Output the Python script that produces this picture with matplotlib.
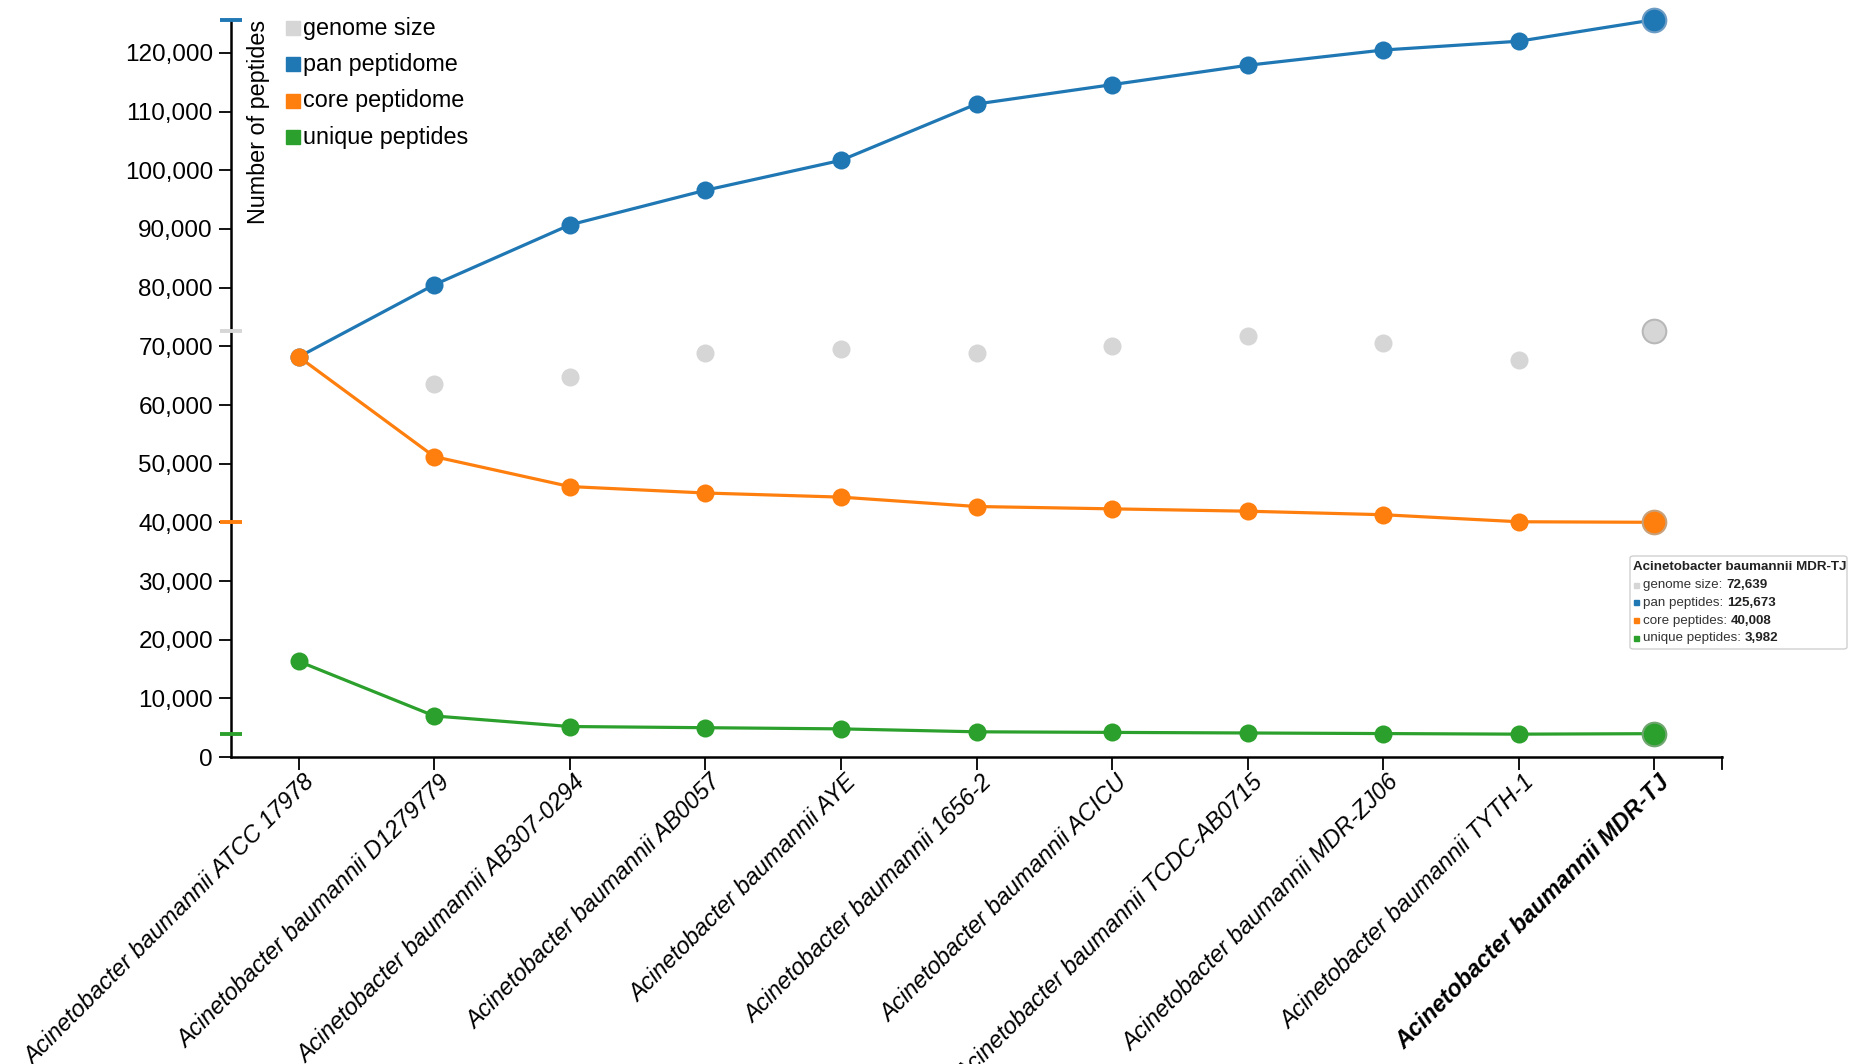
import numpy as np
import matplotlib
matplotlib.use("Agg")
import matplotlib.pyplot as plt
from matplotlib.ticker import FuncFormatter
from matplotlib.patches import FancyBboxPatch, Rectangle
import matplotlib.transforms as mtrans

plt.rcParams['font.family'] = ['Liberation Sans', 'DejaVu Sans']

# strains on the x axis (last one is the selected / highlighted strain)
strains = ["Acinetobacter baumannii ATCC 17978",
           "Acinetobacter baumannii D1279779",
           "Acinetobacter baumannii AB307-0294",
           "Acinetobacter baumannii AB0057",
           "Acinetobacter baumannii AYE",
           "Acinetobacter baumannii 1656-2",
           "Acinetobacter baumannii ACICU",
           "Acinetobacter baumannii TCDC-AB0715",
           "Acinetobacter baumannii MDR-ZJ06",
           "Acinetobacter baumannii TYTH-1",
           "Acinetobacter baumannii MDR-TJ"]

genome_size = [np.nan, 63500, 64700, 68800, 69600, 68800, 70000, 71800, 70600, 67600, 72639]
pan_peptidome = [68200, 80500, 90700, 96600, 101700, 111300, 114600, 117900, 120500, 122000, 125673]
core_peptidome = [68200, 51200, 46100, 45000, 44300, 42700, 42300, 41900, 41300, 40100, 40008]
unique_peptides = [16300, 7000, 5200, 5000, 4800, 4300, 4200, 4100, 4000, 3900, 3982]

c_gray = '#d6d6d6'
c_blue = '#1f77b4'
c_orange = '#ff7f0e'
c_green = '#2ca02c'

fig = plt.figure(figsize=(18.6, 10.64), dpi=100)
ax = fig.add_axes([0.1242, 0.2885, 0.8016, 0.6930])

x = np.arange(len(strains))
sel = len(strains) - 1

# genome size: dots only
ax.plot(x[:sel], genome_size[:sel], 'o', color=c_gray, ms=13, mec='none', zorder=2)
for vals, col in [(pan_peptidome, c_blue), (core_peptidome, c_orange),
                  (unique_peptides, c_green)]:
    ax.plot(x, vals, '-', color=col, lw=2.3, zorder=3)
    ax.plot(x[:sel], vals[:sel], 'o', color=col, ms=13, mec='none', zorder=4)

# highlighted strain
for vals, col, edge in [(genome_size, c_gray, '#b8b8b8'), (pan_peptidome, c_blue, '#6d9cc4'),
                        (core_peptidome, c_orange, '#c8a07a'), (unique_peptides, c_green, '#6fa66f')]:
    ax.plot(x[sel], vals[sel], 'o', color=col, ms=17, mec=edge, mew=1.5, zorder=5,
            clip_on=False)

ax.set_xlim(-0.5, len(strains) - 0.5)
ax.set_ylim(0, pan_peptidome[sel])
ax.set_yticks(np.arange(0, 120001, 10000))
ax.yaxis.set_major_formatter(FuncFormatter(lambda v, p: '{:,.0f}'.format(v)))
ax.tick_params(axis='y', length=9, width=1.3, labelsize=17.5, pad=4)
ax.tick_params(axis='x', length=9, width=1.3, pad=3)
ax.set_xticks(x)
ax.set_xticklabels(strains, rotation=45, ha='right', va='center',
                   rotation_mode='anchor', fontsize=16.9, style='italic')
shift = mtrans.ScaledTranslation(12 / 100, -5.5 / 100, fig.dpi_scale_trans)
for lab in ax.get_xticklabels():
    lab.set_transform(lab.get_transform() + shift)
ax.get_xticklabels()[sel].set_fontweight('bold')
for s in ['top', 'right']:
    ax.spines[s].set_visible(False)
for s in ['left', 'bottom']:
    ax.spines[s].set_linewidth(1.8)

# colored markers on the y axis for the highlighted strain
for vals, col in [(genome_size, c_gray), (pan_peptidome, c_blue),
                  (core_peptidome, c_orange), (unique_peptides, c_green)]:
    ax.plot([-0.58, -0.42], [vals[sel], vals[sel]], '-', color=col, lw=2.8,
            clip_on=False, zorder=6, solid_capstyle='butt')

# end tick on the right of the x axis
ax.plot([len(strains) - 0.5] * 2, [0, -2000], color='black', lw=1.3, clip_on=False)

# y label inside the axis
ax.text(0.011, 1.0, 'Number of peptides', transform=ax.transAxes, rotation=90,
        ha='left', va='top', fontsize=16.8)

# legend
leg_items = [('genome size', c_gray), ('pan peptidome', c_blue),
             ('core peptidome', c_orange), ('unique peptides', c_green)]
for i, (lab, col) in enumerate(leg_items):
    ytop = 1 - (21 + i * 36.4) / 1064
    fig.add_artist(Rectangle((286 / 1860, ytop - 14 / 1064), 14 / 1860, 14 / 1064,
                             transform=fig.transFigure, color=col))
    fig.text(303 / 1860, ytop - 7 / 1064, lab, ha='left', va='center', fontsize=16.8)

# tooltip box
bx0, by0, bx1, by1 = 1630, 556, 1847, 649
fig.add_artist(FancyBboxPatch((bx0 / 1860, 1 - by1 / 1064), (bx1 - bx0) / 1860,
                              (by1 - by0) / 1064, boxstyle='round,pad=0,rounding_size=0.002',
                              transform=fig.transFigure, fc='white', ec='#d0d0d0', lw=1))
fig.text(1633 / 1860, 1 - 567 / 1064, strains[sel], fontsize=9.6, fontweight='bold',
         ha='left', va='center', color='#222222')
tip_rows = [('genome size', genome_size[sel], c_gray), ('pan peptides', pan_peptidome[sel], c_blue),
            ('core peptides', core_peptidome[sel], c_orange),
            ('unique peptides', unique_peptides[sel], c_green)]
for i, (lab, val, col) in enumerate(tip_rows):
    yy = 1 - (585 + i * 17.8) / 1064
    fig.add_artist(Rectangle((1634 / 1860, yy - 2.5 / 1064), 5 / 1860, 5 / 1064,
                             transform=fig.transFigure, color=col))
    t = fig.text(1643 / 1860, yy, lab + ': ', fontsize=9.6, ha='left', va='center',
                 color='#333333')
    fig.canvas.draw()
    bb = t.get_window_extent()
    fig.text(bb.x1 / 1860, yy, '{:,}'.format(val), fontsize=9.6, fontweight='bold',
             ha='left', va='center', color='#222222')

fig.savefig('out.png', dpi=100)
